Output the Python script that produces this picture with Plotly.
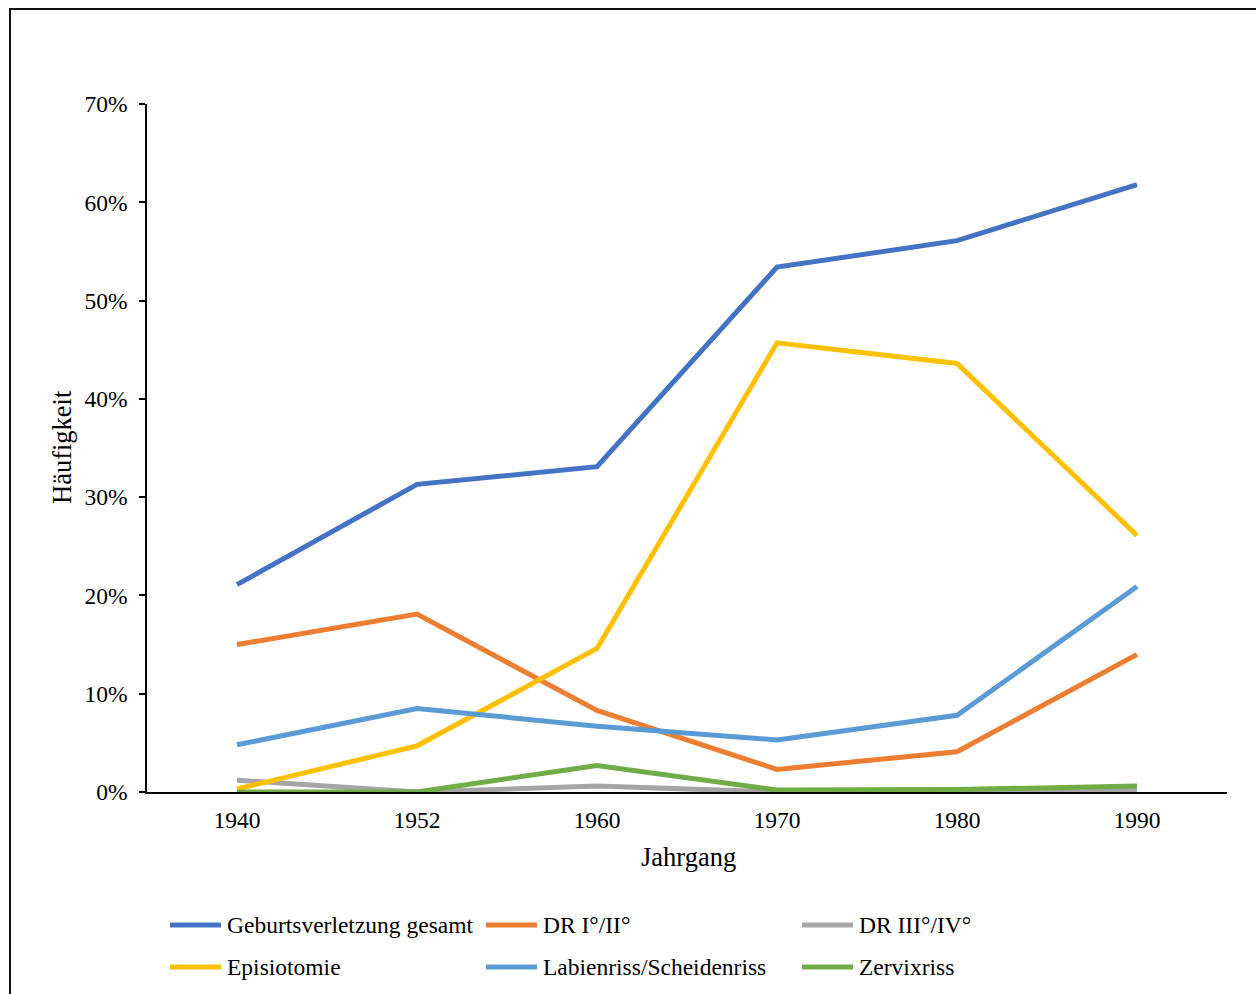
import plotly.graph_objects as go

# Birth-injury frequencies per cohort year (percent)
jahrgang = ["1940", "1952", "1960", "1970", "1980", "1990"]

geburtsverletzung_gesamt = [21.1, 31.3, 33.1, 53.4, 56.1, 61.8]
dr_1_2 = [15.0, 18.1, 8.3, 2.3, 4.1, 14.0]
dr_3_4 = [1.2, 0.0, 0.6, 0.0, 0.1, 0.2]
episiotomie = [0.3, 4.7, 14.6, 45.7, 43.6, 26.1]
labienriss_scheidenriss = [4.8, 8.5, 6.7, 5.3, 7.8, 20.9]
zervixriss = [0.0, 0.0, 2.7, 0.2, 0.25, 0.6]

series_names = [
    "Geburtsverletzung gesamt",
    "DR I°/II°",
    "DR III°/IV°",
    "Episiotomie",
    "Labienriss/Scheidenriss",
    "Zervixriss",
]
series_values = [
    geburtsverletzung_gesamt,
    dr_1_2,
    dr_3_4,
    episiotomie,
    labienriss_scheidenriss,
    zervixriss,
]
series_colors = ["#4472C4", "#ED7D31", "#A5A5A5", "#FFC000", "#5B9BD5", "#70AD47"]

y_ticks = [0, 10, 20, 30, 40, 50, 60, 70]
y_tick_labels = [f"{t}%" for t in y_ticks]

FONT = "Liberation Serif"
TICK_FONT = "Times New Roman"
W, H = 1256, 994
ML, MR, MT, MB = 147, 29, 104, 202
PW, PH = W - ML - MR, H - MT - MB


def px_x(px):
    return (px - ML) / PW


def px_y(py):
    return (H - MB - py) / PH


fig = go.Figure()
for name, vals, col in zip(series_names, series_values, series_colors):
    fig.add_trace(
        go.Scatter(
            x=jahrgang,
            y=vals,
            name=name,
            mode="lines",
            line=dict(color=col, width=5),
            showlegend=False,
        )
    )

shapes = []
annotations = []

# outer chart frame
shapes.append(
    dict(
        type="rect", xref="paper", yref="paper",
        x0=px_x(10), x1=px_x(1300), y0=px_y(1100), y1=px_y(9),
        line=dict(color="#111111", width=2), layer="below",
    )
)

# legend: two rows of three entries
legend_cols = [168, 484, 800]
legend_rows = [925, 967]
for i, (name, col) in enumerate(zip(series_names, series_colors)):
    lx = legend_cols[i % 3]
    ly = legend_rows[i // 3]
    shapes.append(
        dict(
            type="line", xref="paper", yref="paper",
            x0=px_x(lx + 2), x1=px_x(lx + 53), y0=px_y(ly), y1=px_y(ly),
            line=dict(color=col, width=5),
        )
    )
    annotations.append(
        dict(
            xref="paper", yref="paper", x=px_x(lx + 57), y=px_y(ly),
            text=name, showarrow=False, xanchor="left", yanchor="middle",
            font=dict(family=FONT, size=23.5, color="#000000"),
        )
    )

# axis titles
annotations.append(
    dict(
        xref="paper", yref="paper", x=px_x(62), y=px_y(447),
        text="Häufigkeit", showarrow=False, textangle=-90,
        xanchor="center", yanchor="middle",
        font=dict(family=FONT, size=26.5, color="#000000"),
    )
)
annotations.append(
    dict(
        xref="paper", yref="paper", x=px_x(688), y=px_y(857),
        text="Jahrgang", showarrow=False,
        xanchor="center", yanchor="middle",
        font=dict(family=FONT, size=26.5, color="#000000"),
    )
)

fig.update_layout(
    width=W,
    height=H,
    margin=dict(l=ML, r=MR, t=MT, b=MB, pad=0),
    paper_bgcolor="white",
    plot_bgcolor="white",
    font=dict(family=FONT, size=23.5, color="#000000"),
    shapes=shapes,
    annotations=annotations,
    showlegend=False,
)

fig.update_xaxes(
    type="category",
    range=[-0.5, 5.5],
    showgrid=False,
    zeroline=False,
    showline=True,
    linecolor="#000000",
    linewidth=1.5,
    ticks="",
    ticklabelstandoff=6,
    tickfont=dict(family=TICK_FONT, size=23.5, color="#000000"),
)

fig.update_yaxes(
    range=[0, 70],
    tickvals=y_ticks,
    ticktext=y_tick_labels,
    showgrid=False,
    zeroline=False,
    showline=True,
    linecolor="#000000",
    linewidth=1.5,
    ticks="outside",
    ticklen=6,
    tickwidth=1.5,
    tickcolor="#000000",
    ticklabelstandoff=7,
    tickfont=dict(family=TICK_FONT, size=23.5, color="#000000"),
)

fig.write_html("out.html")
